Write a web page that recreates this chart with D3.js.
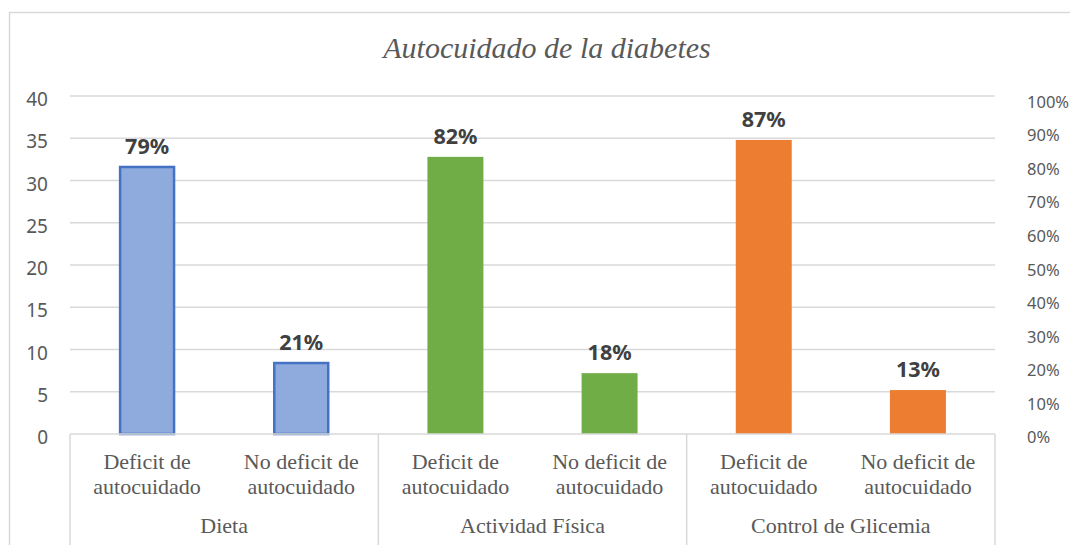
<!DOCTYPE html>
<html>
<head>
<meta charset="utf-8">
<script src="https://cdn.jsdelivr.net/npm/d3@7"></script>
<style>
  html, body { margin: 0; padding: 0; background: #ffffff; }
  svg { display: block; }
</style>
</head>
<body>
<svg id="chart" width="1070" height="545"></svg>
<script>
// ---- data ----
const groups = ["Dieta", "Actividad Física", "Control de Glicemia"];
const subcategories = ["Deficit de autocuidado", "No deficit de autocuidado"];
const values = [31.6, 8.4, 32.8, 7.2, 34.8, 5.2];
const percentLabels = ["79%", "21%", "82%", "18%", "87%", "13%"];
const groupColors = ["#8faadc", "#70ad47", "#ed7d31"];
const groupStrokes = ["#4472c4", "#70ad47", "#ed7d31"];
const leftTicks = [0, 5, 10, 15, 20, 25, 30, 35, 40];
const rightTicks = [0, 0.1, 0.2, 0.3, 0.4, 0.5, 0.6, 0.7, 0.8, 0.9, 1.0];
const title = "Autocuidado de la diabetes";

// ---- layout ----
const svg = d3.select("#chart");
const plot = { left: 70, right: 995, top: 96, bottom: 434 };

const rows = [];
groups.forEach((g, gi) => subcategories.forEach((s, si) => {
  const i = gi * subcategories.length + si;
  rows.push({ key: i, group: g, gi, sub: s, value: values[i], label: percentLabels[i] });
}));

const x = d3.scaleBand().domain(rows.map(d => d.key))
  .range([plot.left, plot.right]).paddingInner(0.637).paddingOuter(0.3185);
const y = d3.scaleLinear().domain([0, 40]).range([plot.bottom, plot.top]);
const yR = d3.scaleLinear().domain([0, 1]).range([plot.bottom + 3, plot.top + 5.5]);
const step = x.step();

// outer frame
svg.append("rect").attr("x", 9.5).attr("y", 12.5).attr("width", 1200).attr("height", 700)
  .attr("fill", "none").attr("stroke", "#d9d9d9").attr("stroke-width", 1.5);

// title
svg.append("text").attr("x", 547).attr("y", 58).attr("text-anchor", "middle")
  .attr("font-family", "'Liberation Serif', 'Times New Roman', serif")
  .attr("font-style", "italic").attr("font-size", 30).attr("fill", "#595959")
  .text(title);

// gridlines
svg.append("g").selectAll("line").data(leftTicks.filter(t => t > 0)).join("line")
  .attr("x1", plot.left).attr("x2", plot.right)
  .attr("y1", d => y(d)).attr("y2", d => y(d))
  .attr("stroke", "#d9d9d9").attr("stroke-width", 1.5);

// left axis labels
const leftAxis = d3.axisLeft(y).tickValues(leftTicks).tickSize(0).tickPadding(0).tickFormat(d3.format("d"));
const gL = svg.append("g").attr("transform", `translate(48,0)`).call(leftAxis);
gL.select(".domain").remove();
gL.selectAll("text").attr("font-family", "'Noto Sans', 'Open Sans', sans-serif")
  .attr("font-size", 19).attr("fill", "#595959").attr("dy", "0.35em")
  .attr("transform", "translate(0,3)");

// right axis labels
const rightAxis = d3.axisRight(yR).tickValues(rightTicks).tickSize(0).tickPadding(0).tickFormat(d3.format(".0%"));
const gR = svg.append("g").attr("transform", `translate(1027,0)`).call(rightAxis);
gR.select(".domain").remove();
gR.selectAll("text").attr("font-family", "'Noto Sans', 'Open Sans', sans-serif")
  .attr("font-size", 16.5).attr("fill", "#595959").attr("dy", "0.35em");

// bars
svg.append("g").selectAll("rect").data(rows).join("rect")
  .attr("x", d => x(d.key) + (d.gi === 0 ? 1 : 0))
  .attr("width", d => x.bandwidth() - (d.gi === 0 ? 2 : 0))
  .attr("y", d => y(d.value))
  .attr("height", d => y(0) - y(d.value))
  .attr("fill", d => groupColors[d.gi])
  .attr("stroke", d => d.gi === 0 ? groupStrokes[d.gi] : "none")
  .attr("stroke-width", 2.5);

// value labels
svg.append("g").selectAll("text").data(rows).join("text")
  .attr("x", d => x(d.key) + x.bandwidth() / 2)
  .attr("y", d => y(d.value) - 13)
  .attr("text-anchor", "middle")
  .attr("font-family", "'Noto Sans', 'Open Sans', sans-serif")
  .attr("font-weight", "bold").attr("font-size", 21.5).attr("fill", "#404040")
  .text(d => d.label);

// x-axis line and separators
const axisG = svg.append("g").attr("stroke", "#d9d9d9").attr("stroke-width", 1.5);
axisG.append("line").attr("x1", plot.left).attr("x2", plot.right)
  .attr("y1", plot.bottom).attr("y2", plot.bottom);
const boundaries = [0, 2, 4, 6].map(i => plot.left + i * step);
axisG.selectAll("line.sep").data(boundaries).join("line").attr("class", "sep")
  .attr("x1", d => d).attr("x2", d => d)
  .attr("y1", plot.bottom).attr("y2", 545);

// category labels
const serif = "'Liberation Serif', 'Times New Roman', serif";
const catG = svg.append("g");
rows.forEach(d => {
  const words = d.sub.split(" ");
  const line2 = words.pop();
  const line1 = words.join(" ");
  const t = catG.append("text").attr("text-anchor", "middle")
    .attr("font-family", serif).attr("font-size", 22).attr("fill", "#595959");
  const cx = x(d.key) + x.bandwidth() / 2;
  t.append("tspan").attr("x", cx).attr("y", 469).text(line1);
  t.append("tspan").attr("x", cx).attr("y", 494).text(line2);
});

// group labels
svg.append("g").selectAll("text").data(groups).join("text")
  .attr("x", (d, i) => plot.left + (i * 2 + 1) * step)
  .attr("y", 533).attr("text-anchor", "middle")
  .attr("font-family", serif).attr("font-size", 22).attr("fill", "#595959")
  .text(d => d);
</script>
</body>
</html>
